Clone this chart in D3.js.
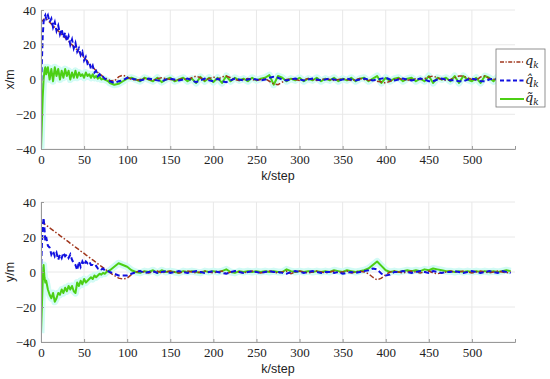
<!DOCTYPE html>
<html>
<head>
<meta charset="utf-8">
<script src="https://cdn.jsdelivr.net/npm/d3@7"></script>
<style>
  body { margin: 0; background: #fff; }
  text { fill: #222; }
</style>
</head>
<body>
<svg id="chart" width="550" height="379"></svg>
<script>
// step index shared by all series
var kSteps = [0, 1, 2, 3, 4, 5, 6, 8, 10, 12, 14, 16, 18, 20, 22, 24, 26, 28, 30, 32,
  34, 36, 38, 40, 42, 44, 46, 48, 50, 52, 54, 56, 58, 60, 62, 64, 66, 68, 70, 72,
  74, 76, 78, 80,
  85, 90, 95, 100, 105, 110, 115, 120, 125, 130,
  135, 140, 145, 150, 155, 160, 165, 170, 175, 180,
  185, 190, 195, 200, 205, 210, 215, 220, 225, 230,
  235, 240, 245, 250, 255, 260, 265, 270, 275, 280,
  285, 290, 295, 300, 305, 310, 315, 320, 325, 330,
  335, 340, 345, 350, 355, 360, 365, 370, 375, 380,
  385, 390, 395, 400, 405, 410, 415, 420, 425, 430,
  435, 440, 445, 450, 455, 460, 465, 470, 475, 480,
  485, 490, 495, 500, 505, 510, 515, 520, 525, 530,
  535, 540, 545];

// x/m : true q, estimate q-hat, measurement q-tilde
var xQ = [33, 33.5, 34, 34.5, 35, 35, 35, 34, 33, 32, 31, 30, 29, 28, 27, 26, 25, 24, 23, 22,
  21, 20, 19, 18, 17, 16, 15, 14, 12.5, 11.5, 10.5, 9, 8, 7, 6, 5, 4, 3, 2.5, 1.5,
  1, 0.5, 0, -0.5,
  -1, 1.5, 2.5, 1.5, 0, -0.5, 0, 0.5, 0, -0.5,
  0.5, 1, 0.5, 0, -0.5, 0, 0.5, 0, 1, 2,
  1, -0.5, 0.5, 1.5, 0, 1.5, 2, 1, 0, -0.5,
  0, 0.5, 0, -0.5, 0, 0.5, -1, -2.5, -3, -1.5,
  0, 0.5, 0, -0.5, 0, 0.5, 0, -0.5, 0, 0.5,
  0, -0.5, 0, 0.5, 0, -0.5, 0, 0.5, 0, -0.5,
  0, -1, -1.5, -2, -1, 0, 0.5, 0, -0.5, 0,
  0.5, 0, 0.5, 1.5, 2, 1, 0, -0.5, 0, 1,
  2, 2, 1, 0, -0.5, 1.5, 2, 0.5, 0, 1,
  1.5, 0.5, 0];
var xQhat = [-5, 10, 25, 33, 36, 37, 35, 37, 33, 35, 30, 33, 28, 31, 26, 29, 24, 27, 22, 25,
  20, 23, 18, 21, 16, 18, 14, 16, 11, 13, 9, 10, 6, 8, 4, 5, 2, 3, 1, 1.5,
  0.5, 0, -0.5, -1,
  -2, -1, -0.5, 1, 0.5, 0, -0.5, 0, 0.5, 0,
  -0.5, -1, 0, 0.5, 0, -0.5, 0, 0.5, -0.5, -1.5,
  -0.5, 0.5, -0.5, -1, 0.5, -1, -1.5, -0.5, 0.5, 0,
  -0.5, 0, 0.5, 0, -0.5, 0, 1, 1.5, 1, 0,
  -0.5, 0, 0.5, 0, -0.5, 0, 0.5, 0, -0.5, 0,
  0.5, 0, -0.5, 0, 0.5, 0, -0.5, 0, 0.5, 0,
  -0.5, 0, 0.5, 1, 0, -0.5, 0, 0.5, 0, -0.5,
  0, 0.5, 0, -1, -1, 0, 0.5, 0, -0.5, -0.5,
  -1, -1, 0, 0.5, 0, -1, -1, 0, 0.5, 0,
  -0.5, 0, 0.5];
var xQtil = [-40, -25, -10, 0, 5, 7, 3, 7, 0, 6, -1, 7, 2, 6, 0, 5, 1, 6, 2, 5,
  0, 4, 1, 5, 1, 4, 2, 3, 1, 4, 2, 3, 1, 3, 1, 2, 0.5, 1.5, 0, 0.5,
  0, -0.5, -1, -2,
  -3, -2.5, -1, 0.5, 1, 0, -1, 1, 0, -1,
  1, -1.5, 0, 1, -1, 0, 1, -1, 0.5, -2,
  1.5, -1, 1, -1.5, 1, -2, 2, -1, 1, -0.5,
  0.5, -1, 1, -0.5, 0.5, 1, 2.5, -3, 2, 1,
  -1, 0.5, -0.5, 1, -1, 0.5, -0.5, 1, -1, 0.5,
  -0.5, 1, -1, 0.5, -0.5, 1, -1, 0.5, 1, -1,
  0.5, 2, -2, 1, -1, 0.5, 1, -1, 0.5, 1,
  -1, 0.5, -1, 2, -2, 1, 0, 1, -1, 2,
  -2, 2, 0, -1, 1, -2, 2, 1, -1, 1.5,
  -1.5, 1, 0];

// y/m
var yQ = [28, 28, 28, 28, 27.5, 27, 26.5, 26, 25.2, 24.5, 23.8, 23, 22.3, 21.6, 20.8, 20.1, 19.4, 18.6, 17.9, 17.2,
  16.4, 15.7, 15, 14.2, 13.5, 12.8, 12, 11.3, 10.6, 9.8, 9.1, 8.4, 7.6, 6.9, 6.2, 5.4, 4.7, 4, 3.2, 2.5,
  1.8, 1, 0.3, -0.4,
  -2, -3.5, -4, -3.5, -1.5, 0, 0.5, 0, -0.5, 0,
  0.5, -0.5, 0, 0.5, 0, -0.5, 0, 0.5, 0, -0.5,
  0, 0.5, 0, -0.5, 0, 0.5, -1, 0, 0.5, 0,
  -0.5, 0, 0.5, 0, -0.5, 0, 0.5, 0, -0.5, 0,
  0.5, -1, 0, 0.5, 0, -0.5, 0, 0.5, 0, -0.5,
  0, 0.5, -0.5, 0, 0.5, -0.5, 0, 0.5, 0, -1,
  -3, -4.5, -3.5, -1.5, 0, 0.5, 0, -0.5, 0, 0.5,
  0, -0.5, 0, 0.5, -0.5, -1, -0.5, 0, 0.5, 0,
  0, 0.5, 0, -0.5, 0, 0.5, 0, -0.5, 0, 0.5,
  0, -0.5, 0];
var yQhat = [0, 15, 25, 31, 25, 18, 20, 15, 14, 10, 12, 9, 11, 7, 10, 8, 11, 9, 10, 8,
  10, 7, 5, 4, 1, 6, 3, 6, 4, 6, 5, 6, 4, 4, 3, 3.5, 2, 2.5, 1.5, 2,
  1, 1, 0.5, 0,
  -1, -2, -2, -2, -1, 0, 0.5, -0.5, 0, 0.5,
  -0.5, 0, 0.5, -0.5, 0, 0.5, 0, -0.5, 0, 0.5,
  0, -0.5, 0, 0.5, 0, -0.5, -1, 0, 0.5, 0,
  -0.5, 0, 0.5, 0, -0.5, 0, 0.5, 0, 0, -0.5,
  -1, 0, 0.5, 0, -0.5, 0, 0.5, 0, -0.5, 0,
  0, -0.5, 0, -1, -0.5, 0, -0.5, 0, 0.5, 1,
  2, 1.5, -1, -2, -1.5, 0, 0, 0.5, 0, -0.5,
  0, 0.5, 0, -0.5, 0.5, 0, -0.5, 0, 0, 0.5,
  0, -0.5, 0, 0.5, 0, -0.5, 0, 0.5, 0, -0.5,
  0.5, 0, -0.5];
var yQtil = [-35, -20, -5, 4, -3, -6, -5, -10, -13, -15, -12, -17, -15, -12, -13, -10, -12, -9, -11, -8,
  -10, -8, -11, -12, -6, -8, -5, -7, -4, -6, -5, -4, -3, -4, -2, -3, -2, -1, -1.5, -0.5,
  -1, 0, 0.5, 1,
  3, 5, 4, 3, 1, 0, -0.5, 0.5, 0, 1,
  -0.5, 1, 0, 0.5, 0, -0.5, 0.5, 0, 0.5, 0,
  -0.5, 0.5, 0, 0.5, 0, 0.5, 1.5, 0, -0.5, 0.5,
  0, 0.5, 0, 0.5, 0, 0.5, 0, 0.5, 0, 0,
  1.5, 0.5, 0, 0.5, 0, 0.5, 0, 0.5, 0, 0.5,
  0, 1, 0.5, 0, 1, 0.5, 0, 0.5, 1, 2,
  4, 6, 3.5, 1, 0, 0.5, 0, 0.5, 1, 0.5,
  1, 0.5, 1.5, 1, 2, 1.5, 1, 0.5, 0.5, 0,
  0.5, 0, 0.5, 0, 0.5, 0, 0.5, 0, 0.5, 0,
  0.5, 1, 0.5];

var xTicks = [0, 50, 100, 150, 200, 250, 300, 350, 400, 450, 500];
var yTicks = [-40, -20, 0, 20, 40];

var svg = d3.select('#chart');
var left = 41, right = 515;

var xScale = d3.scaleLinear().domain([0, 550]).range([left, right]);

var colQ = '#a0361c', colHat = '#1010e0', colTil = '#4ccf14';

function drawPanel(top, bottom, yLabel, qv, hv, tv, id) {
  var yScale = d3.scaleLinear().domain([-40, 40]).range([bottom, top]);
  var g = svg.append('g');

  // grid
  g.selectAll('.gx').data(xTicks).enter().append('line')
    .attr('x1', function(d) { return xScale(d); }).attr('x2', function(d) { return xScale(d); })
    .attr('y1', top).attr('y2', bottom)
    .attr('stroke', '#e8e8e8').attr('stroke-width', 1);
  g.selectAll('.gy').data(yTicks).enter().append('line')
    .attr('x1', left).attr('x2', right)
    .attr('y1', function(d) { return yScale(d); }).attr('y2', function(d) { return yScale(d); })
    .attr('stroke', '#e8e8e8').attr('stroke-width', 1);

  svg.append('clipPath').attr('id', id).append('rect')
    .attr('x', left).attr('y', top).attr('width', right - left).attr('height', bottom - top);

  var line = d3.line()
    .x(function(d, i) { return xScale(kSteps[i]); })
    .y(function(d) { return yScale(d); });

  var lines = g.append('g').attr('clip-path', 'url(#' + id + ')');
  lines.append('path').attr('d', line(tv)).attr('fill', 'none')
    .attr('stroke', '#d2fbf5').attr('stroke-width', 7).attr('stroke-linejoin', 'round');
  lines.append('path').attr('d', line(tv)).attr('fill', 'none')
    .attr('stroke', colTil).attr('stroke-width', 2).attr('stroke-linejoin', 'round');
  lines.append('path').attr('d', line(qv)).attr('fill', 'none')
    .attr('stroke', colQ).attr('stroke-width', 1.5).attr('stroke-dasharray', '5,2,1.5,2');
  lines.append('path').attr('d', line(hv)).attr('fill', 'none')
    .attr('stroke', colHat).attr('stroke-width', 2).attr('stroke-dasharray', '5,3');

  // axes
  var xAxis = g.append('g').attr('transform', 'translate(0,' + bottom + ')')
    .call(d3.axisBottom(xScale).tickValues(xTicks).tickSize(-3).tickPadding(6));
  var yAxis = g.append('g').attr('transform', 'translate(' + left + ',0)')
    .call(d3.axisLeft(yScale).tickValues(yTicks).tickSize(-3).tickPadding(5)
      .tickFormat(function(d) { return d < 0 ? '\u2212' + (-d) : d; }));
  [xAxis, yAxis].forEach(function(a) {
    a.attr('font-family', null).attr('font-size', null);
    a.select('.domain').attr('stroke', '#999');
    a.selectAll('.tick line').attr('stroke', '#999');
    a.selectAll('.tick text')
      .style('font-family', '"Liberation Serif", "DejaVu Serif", serif')
      .style('font-size', '13px').style('fill', '#222');
  });

  g.append('text').attr('x', (left + right) / 2).attr('y', bottom + 31)
    .attr('text-anchor', 'middle').style('font-family', '"Liberation Sans", Arial, sans-serif')
    .style('font-size', '12.5px').text('k/step');
  g.append('text').attr('transform', 'translate(14,' + yScale(0) + ') rotate(-90)')
    .attr('text-anchor', 'middle').style('font-family', '"Liberation Sans", Arial, sans-serif')
    .style('font-size', '12.5px').text(yLabel);
}

drawPanel(10, 149, 'x/m', xQ, xQhat, xQtil, 'clipTop');
drawPanel(202, 342, 'y/m', yQ, yQhat, yQtil, 'clipBot');

// legend
var legend = svg.append('g');
legend.append('rect').attr('x', 496).attr('y', 49).attr('width', 49).attr('height', 58)
  .attr('fill', '#fff').attr('stroke', '#777').attr('stroke-width', 0.8);
var items = [
  { label: 'q', col: colQ, dash: '4,1.5,1.2,1.5', w: 1.5 },
  { label: 'q\u0302', col: colHat, dash: '4,2.5', w: 2 },
  { label: 'q\u0303', col: colTil, dash: null, w: 2 }
];
items.forEach(function(it, i) {
  var y = 62 + i * 18.5;
  legend.append('line').attr('x1', 500).attr('x2', 524).attr('y1', y).attr('y2', y)
    .attr('stroke', it.col).attr('stroke-width', it.w)
    .attr('stroke-dasharray', it.dash);
  var t = legend.append('text').attr('x', 525).attr('y', y + 3)
    .style('font-family', '"DejaVu Serif", serif').style('font-style', 'italic').style('font-size', '13px');
  t.append('tspan').text(it.label);
  t.append('tspan').style('font-size', '9px').attr('dy', 3).text('k');
});
</script>
</body>
</html>
